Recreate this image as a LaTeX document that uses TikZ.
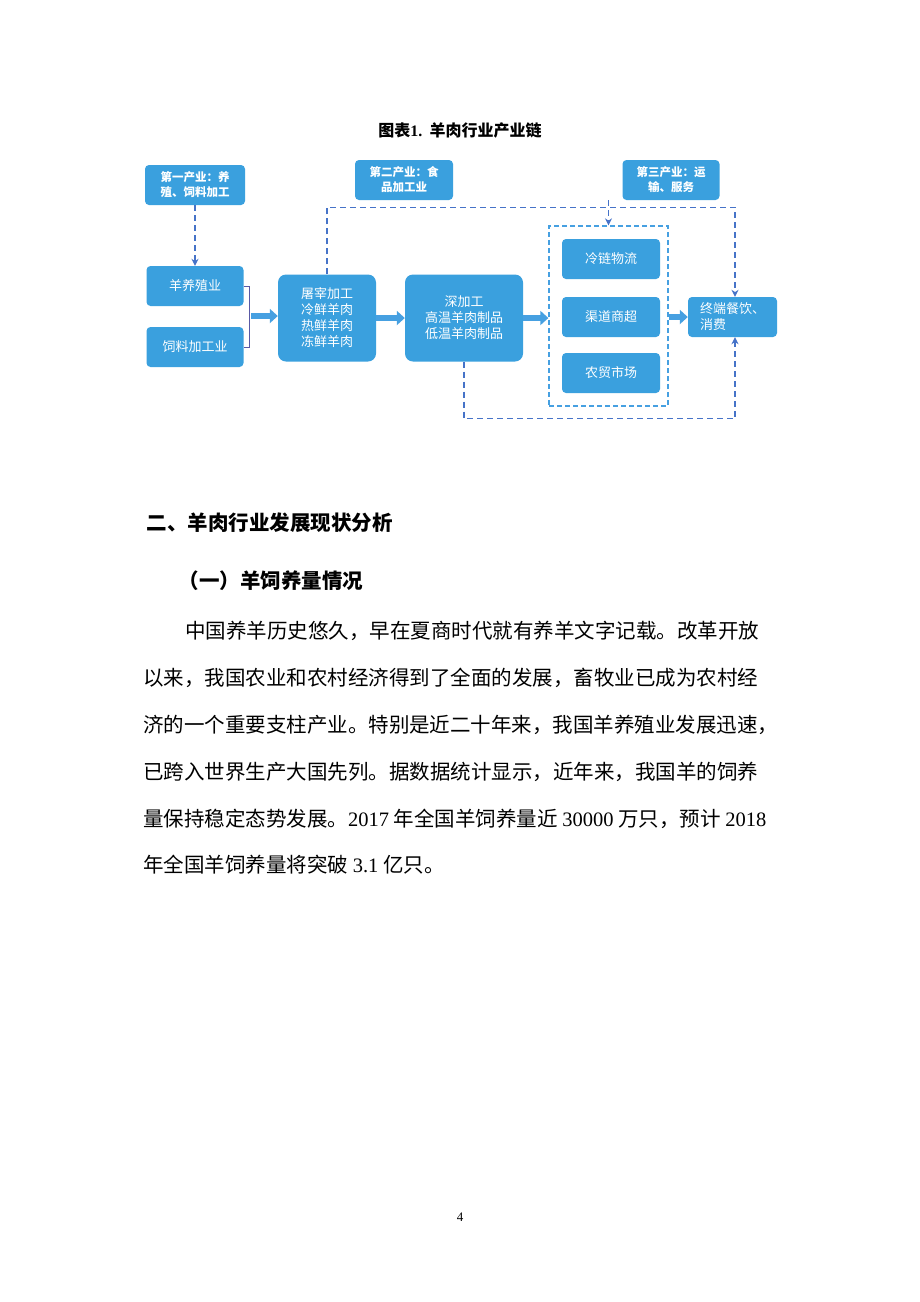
\documentclass[tikz,border=0pt]{standalone}
\usepackage{fontspec}
\setmainfont{Noto Sans CJK SC}
\newfontfamily\lat{Liberation Serif}
\usetikzlibrary{arrows.meta}
\XeTeXlinebreaklocale "zh"
\XeTeXlinebreakskip=0pt plus 4pt minus 0.5pt
\definecolor{boxblue}{RGB}{58,160,222}
\definecolor{dashblue}{RGB}{70,115,200}
\definecolor{arrblue}{RGB}{70,160,225}
\tikzset{
  bx/.style={fill=boxblue, rounded corners=4pt, text=white, font=\fontsize{13}{16}\selectfont, align=center, inner sep=0pt},
  hd/.style={bx, font=\fontsize{11.5}{15}\selectfont\bfseries},
  dl/.style={draw=dashblue, dash pattern=on 6pt off 4pt, line width=1.5pt},
  dla/.style={dl, -{Stealth[length=7pt,width=7pt]}},
  blk/.style={draw=arrblue, line width=6pt, -{Triangle[length=8pt,width=14pt]}},
  ln/.style={anchor=base west, text width=#1, align=justify, inner sep=0pt, font=\fontsize{20.5}{24}\selectfont},
}
\begin{document}
\begin{tikzpicture}[x=1pt,y=-1pt]
\useasboundingbox[fill=white] (0,0) rectangle (920,1302);
\node[font=\fontsize{16}{18}\selectfont\bfseries] (title) at (460,130) {图表{\lat 1.}\ \ 羊肉行业产业链};
% header boxes
\node[hd, minimum width=100, minimum height=40] (p1) at (195,185) {第一产业：养\\殖、饲料加工};
\node[hd, minimum width=98, minimum height=40] (p2) at (404,180) {第二产业：食\\品加工业};
\node[hd, minimum width=97, minimum height=40] (p3) at (671,180) {第三产业：运\\输、服务};
% main boxes
\node[bx, minimum width=97, minimum height=40] (yang) at (195,286) {羊养殖业};
\node[bx, minimum width=97, minimum height=40] (si) at (195,347) {饲料加工业};
\node[bx, minimum width=98, minimum height=87, rounded corners=8pt] (tu) at (327,318) {屠宰加工\\冷鲜羊肉\\热鲜羊肉\\冻鲜羊肉};
\node[bx, minimum width=118, minimum height=87, rounded corners=8pt] (shen) at (464,318) {深加工\\高温羊肉制品\\低温羊肉制品};
\node[draw=arrblue, dash pattern=on 5pt off 3pt, line width=1.3pt, minimum width=119, minimum height=180, inner sep=0pt] (grp) at (608.5,316) {};
\node[bx, minimum width=98, minimum height=40] (leng) at (611,259) {冷链物流};
\node[bx, minimum width=98, minimum height=40] (qu) at (611,317) {渠道商超};
\node[bx, minimum width=98, minimum height=40] (nong) at (611,373) {农贸市场};
\node[bx, minimum width=89, minimum height=40, align=left] (zhong) at (732.5,317) {终端餐饮、\\消费};
% bracket
\coordinate (br) at (251,316);
\draw[draw=gray!70!blue, line width=0.8pt] (yang.east) -- ++(6,0) |- (si.east);
% block arrows
\draw[blk] (br) -- (br -| tu.west);
\draw[blk] (tu.east) -- (shen.west);
\draw[blk] (shen.east) -- (shen.east -| grp.west);
\draw[blk] (grp.east |- zhong.west) -- (zhong.west);
% dashed
\draw[dla] (p1.south) -- (yang.north);
\draw[dla] (tu.north) -- ++(0,-67) -| ([xshift=2.5pt]zhong.north);
\draw[dla] (p3.south -| grp.north) -- (grp.north);
\draw[dla] (shen.south) -- ++(0,57) -| ([xshift=2.5pt]zhong.south);
% text
\node[anchor=base west, font=\fontsize{20.5}{24}\selectfont\bfseries] (h1) at (143,530) {二、羊肉行业发展现状分析};
\node[anchor=base west, font=\fontsize{20.5}{24}\selectfont\bfseries] (h2) at (175,588) {（一）羊饲养量情况};
\node[ln=593] (l1) at (185,638) {\parfillskip=0pt 中国养羊历史悠久，早在夏商时代就有养羊文字记载。改革开放};
\node[ln=635] (l2) at (143,685) {\parfillskip=0pt 以来，我国农业和农村经济得到了全面的发展，畜牧业已成为农村经};
\node[ln=635] (l3) at (143,732) {\parfillskip=0pt 济的一个重要支柱产业。特别是近二十年来，我国羊养殖业发展迅速，};
\node[ln=635] (l4) at (143,779) {\parfillskip=0pt 已跨入世界生产大国先列。据数据统计显示，近年来，我国羊的饲养};
\node[ln=635] (l5) at (143,826) {\parfillskip=0pt 量保持稳定态势发展。{\lat 2017} 年全国羊饲养量近 {\lat 30000} 万只，预计 {\lat 2018}};
\node[anchor=base west, inner sep=0pt, font=\fontsize{20.5}{24}\selectfont] (l6) at (143,872) {年全国羊饲养量将突破 {\lat 3.1} 亿只。};
\node[font=\fontsize{13}{15}\selectfont\lat] (pg) at (460,1217) {4};
\end{tikzpicture}
\end{document}
